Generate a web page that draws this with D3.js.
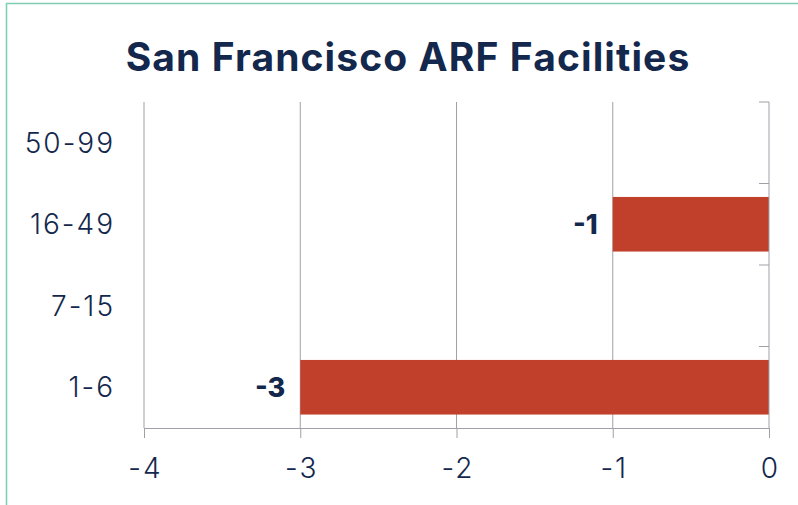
<!DOCTYPE html>
<html>
<head>
<meta charset="utf-8">
<script src="https://cdn.jsdelivr.net/npm/d3@7"></script>
<style>
  body { margin: 0; background: #fff; }
  svg { display: block; }
</style>
</head>
<body>
<div id="graphicContainer"></div>
<script>
// chart data
var categories = ["50-99", "16-49", "7-15", "1-6"]
var values = [null, -1, null, -3]
var xTicks = [-4, -3, -2, -1, 0]
var chartTitle = "San Francisco ARF Facilities"

var navy = "#13284c"
var barColor = "#c1402b"
var gridColor = "#a0a0a8"
var fontStack = "Inter, 'Open Sans', sans-serif"

function makeChart() {
    var width = 798, height = 505
    var margin = {top: 102, right: 29, bottom: 77, left: 144}

    d3.select("#graphicContainer svg").remove()

    var svg = d3.select("#graphicContainer").append("svg")
        .attr("width", width)
        .attr("height", height)

    // frame border (left + top)
    svg.append("path")
        .attr("d", "M6.5," + height + "V3.5H" + width)
        .attr("fill", "none")
        .attr("stroke", "#7fcdb4")
        .attr("stroke-width", 1.5)

    svg.append("text")
        .attr("x", 408)
        .attr("y", 71)
        .attr("text-anchor", "middle")
        .attr("font-family", fontStack)
        .attr("font-weight", 700)
        .attr("font-size", 39)
        .attr("letter-spacing", "1.1px")
        .attr("fill", navy)
        .text(chartTitle)

    var x = d3.scaleLinear()
        .domain([-4, 0])
        .range([margin.left, width - margin.right])

    var y = d3.scaleBand()
        .domain(categories)
        .range([margin.top, height - margin.bottom])
        .paddingInner(0.33)
        .paddingOuter(0.165)

    var yBands = d3.scaleBand()
        .domain(categories)
        .range([margin.top, height - margin.bottom])

    // vertical gridlines
    svg.append("g")
        .selectAll("line")
        .data(xTicks.filter(d => d != 0))
        .enter()
        .append("line")
        .attr("x1", d => x(d)).attr("x2", d => x(d))
        .attr("y1", margin.top).attr("y2", height - margin.bottom)
        .attr("stroke", gridColor)
        .attr("stroke-width", 1)

    var barData = categories.map((c, i) => ({cat: c, val: values[i]})).filter(d => d.val != null)

    // bars
    svg.append("g")
        .selectAll("rect")
        .data(barData)
        .enter()
        .append("rect")
        .attr("x", d => x(d.val))
        .attr("width", d => x(0) - x(d.val))
        .attr("y", d => y(d.cat))
        .attr("height", y.bandwidth())
        .attr("fill", barColor)

    // bottom axis
    var xAxis = svg.append("g")
        .attr("transform", "translate(0," + (height - margin.bottom) + ")")
        .call(d3.axisBottom(x).tickValues(xTicks).tickSize(10).tickPadding(20).tickFormat(d => String(d)))
    xAxis.select(".domain").attr("stroke", gridColor)
    xAxis.selectAll(".tick line").attr("stroke", gridColor)
    xAxis.selectAll("text")
        .attr("font-family", fontStack)
        .attr("font-weight", 300)
        .attr("font-size", 28)
        .attr("letter-spacing", "2px")
        .attr("dx", "1px")
        .attr("fill", navy)

    // right-side axis at zero with band boundary ticks
    var zx = x(0)
    svg.append("line")
        .attr("x1", zx).attr("x2", zx)
        .attr("y1", margin.top).attr("y2", height - margin.bottom)
        .attr("stroke", gridColor)
    svg.append("g")
        .selectAll("line")
        .data(categories)
        .enter()
        .append("line")
        .attr("x1", zx - 10).attr("x2", zx)
        .attr("y1", d => yBands(d)).attr("y2", d => yBands(d))
        .attr("stroke", gridColor)

    // category labels
    svg.append("g")
        .selectAll("text")
        .data(categories)
        .enter()
        .append("text")
        .attr("x", 115)
        .attr("y", d => yBands(d) + yBands.bandwidth() / 2)
        .attr("dy", "0.35em")
        .attr("text-anchor", "end")
        .attr("font-family", fontStack)
        .attr("font-weight", 300)
        .attr("font-size", 28)
        .attr("letter-spacing", "2px")
        .attr("fill", navy)
        .text(d => d)

    // value labels
    svg.append("g")
        .selectAll("text")
        .data(barData)
        .enter()
        .append("text")
        .attr("x", d => x(d.val) - 15)
        .attr("y", d => y(d.cat) + y.bandwidth() / 2)
        .attr("dy", "0.35em")
        .attr("text-anchor", "end")
        .attr("font-family", fontStack)
        .attr("font-weight", 800)
        .attr("font-size", 27)
        .attr("fill", navy)
        .text(d => d.val)
}

makeChart()
</script>
</body>
</html>
